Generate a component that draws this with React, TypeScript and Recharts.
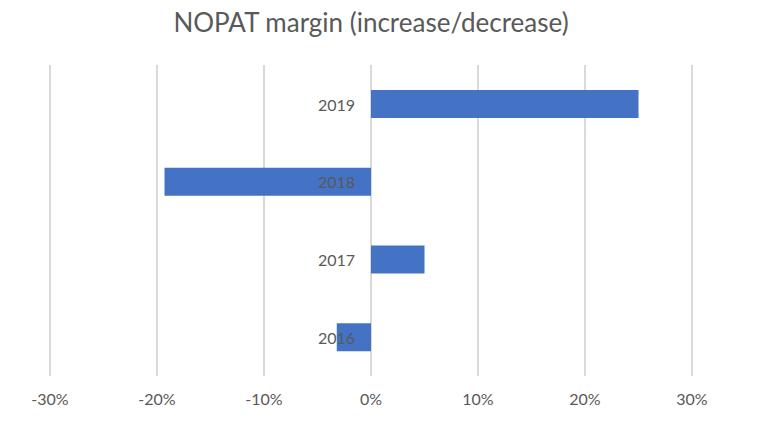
import { BarChart, Bar, XAxis, YAxis, CartesianGrid, LabelList } from "recharts";

const years = ["2016", "2017", "2018", "2019"];
const nopatChange = [-3.2, 5.0, -19.3, 25.0];
const xTicks = [-30, -20, -10, 0, 10, 20, 30];

const data = years.map((year, i) => ({ year, change: nopatChange[i] }));

const FONT = "Lato, 'Open Sans', sans-serif";
const TEXT = "#595959";

// year label sits just left of the zero line, like Excel's "low" axis label position
function YearLabel(props: any) {
  const vb = props.viewBox ?? props;
  const x = Number(vb.x ?? props.x);
  const y = Number(vb.y ?? props.y);
  const w = Number(vb.width ?? props.width);
  const h = Number(vb.height ?? props.height);
  const row = data[props.index];
  if (!row) return null;
  const zeroX = row.change < 0 && w > 0 ? x + w : x;
  return (
    <text
      x={zeroX - 16}
      y={y + h / 2}
      textAnchor="end"
      dominantBaseline="central"
      fill={TEXT}
      fontSize={16}
      fontFamily={FONT}
    >
      {row.year}
    </text>
  );
}

export default function App() {
  return (
    <div style={{ position: "absolute", left: 0, top: 0, width: 759, height: 429, background: "#fff" }}>
      <div
        style={{
          position: "absolute",
          left: 0,
          top: 5,
          width: 742,
          textAlign: "center",
          fontFamily: FONT,
          fontSize: 26,
          lineHeight: "34px",
          color: TEXT,
        }}
      >
        NOPAT margin (increase/decrease)
      </div>
      <BarChart
        width={759}
        height={429}
        data={data}
        layout="vertical"
        margin={{ top: 65, right: 67, bottom: 13, left: 50 }}
      >
        <CartesianGrid horizontal={false} stroke="#d4d4d4" strokeWidth={1.75} />
        <XAxis
          type="number"
          domain={[-30, 30]}
          ticks={xTicks}
          tickFormatter={(v) => `${v}%`}
          axisLine={false}
          tickLine={false}
          height={40}
          tickMargin={12}
          tick={{ fontSize: 16, fill: TEXT, fontFamily: FONT }}
        />
        <YAxis type="category" dataKey="year" reversed hide />
        <Bar dataKey="change" fill="#4472c4" barSize={28} isAnimationActive={false}>
          <LabelList dataKey="change" content={YearLabel} />
        </Bar>
      </BarChart>
    </div>
  );
}
